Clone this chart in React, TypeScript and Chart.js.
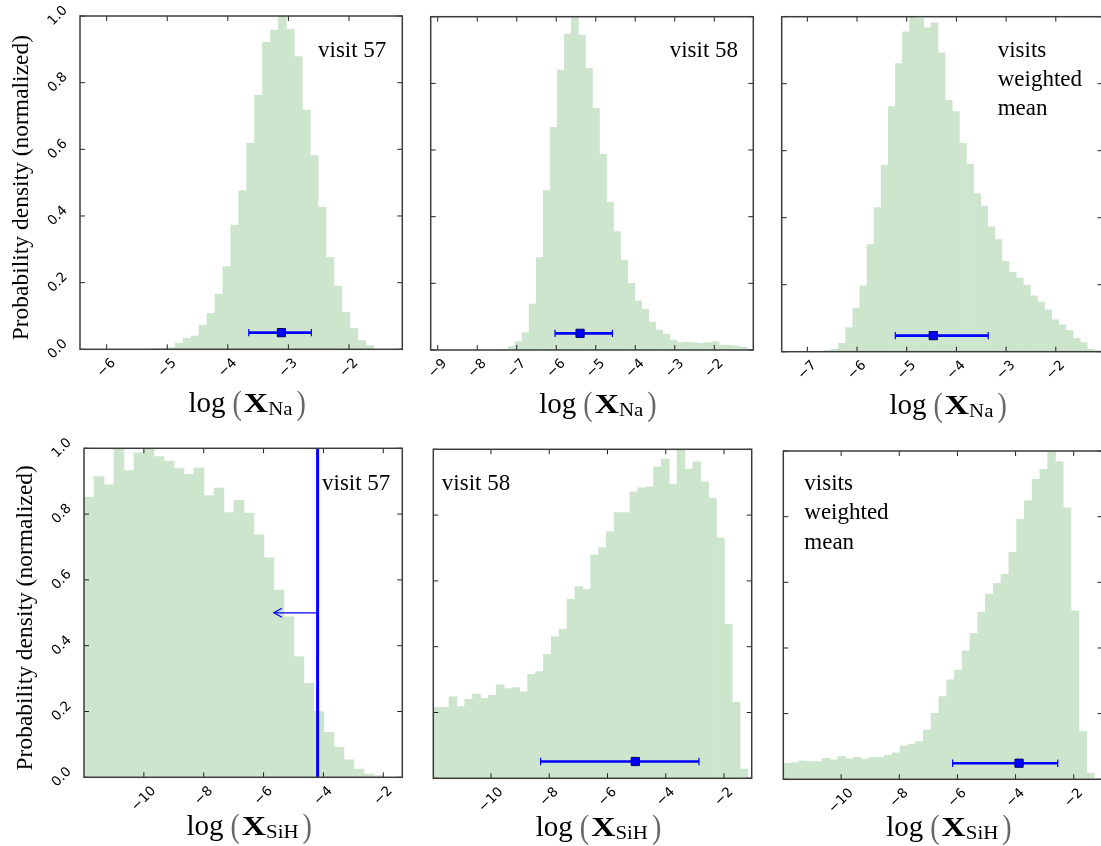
import { useEffect, useRef } from "react";
import { Chart, registerables } from "chart.js";

Chart.register(...registerables);

// ---------------- data ----------------
const Y_TICKS = [0, 0.2, 0.4, 0.6, 0.8, 1.0];
const Y_TICK_LABELS = ["0.0", "0.2", "0.4", "0.6", "0.8", "1.0"];
const Y_TITLE = "Probability density (normalized)";

const NA57_TICKS = [-6, -5, -4, -3, -2];
const NA58_TICKS = [-9, -8, -7, -6, -5, -4, -3, -2];
const NAW_TICKS = [-7, -6, -5, -4, -3, -2];
const SIH_TICKS = [-10, -8, -6, -4, -2];

// visit 57, log X_Na
const NA57_RANGE = [-6.44, -1.12];
const NA57_BIN_START = -5.261;
const NA57_BIN_WIDTH = 0.131;
const NA57_VALUES = [
  0.002, 0.003, 0.005, 0.018, 0.033, 0.04, 0.073, 0.108, 0.166, 0.248, 0.373,
  0.476, 0.618, 0.762, 0.921, 0.958, 1.0, 0.96, 0.878, 0.718, 0.581, 0.426,
  0.276, 0.19, 0.111, 0.063, 0.026, 0.011,
];
const NA57_ERR = [-3.654, -3.115, -2.621];
const NA57_ERR_Y = 0.05;

// visit 58, log X_Na
const NA58_RANGE = [-9.177, -1.013];
const NA58_BIN_START = -7.575;
const NA58_BIN_WIDTH = 0.178;
const NA58_VALUES = [
  0.001, 0.002, 0.01, 0.025, 0.052, 0.138, 0.277, 0.478, 0.668, 0.84, 0.948,
  1.0, 0.945, 0.845, 0.725, 0.587, 0.444, 0.355, 0.27, 0.2, 0.147, 0.122,
  0.084, 0.06, 0.048, 0.03, 0.022, 0.024, 0.022, 0.02, 0.022, 0.025, 0.015,
  0.014, 0.012, 0.008,
];
const NA58_ERR = [-6.03, -5.397, -4.578];
const NA58_ERR_Y = 0.05;

// weighted mean, log X_Na
const NAW_RANGE = [-7.516, -1.06];
const NAW_BIN_START = -6.658;
const NAW_BIN_WIDTH = 0.143;
const NAW_VALUES = [
  0.003, 0.008, 0.025, 0.072, 0.13, 0.197, 0.32, 0.43, 0.557, 0.732, 0.86,
  0.955, 1.0, 0.995, 0.967, 0.982, 0.892, 0.75, 0.717, 0.622, 0.56, 0.472,
  0.435, 0.373, 0.335, 0.27, 0.237, 0.22, 0.198, 0.167, 0.148, 0.125, 0.095,
  0.08, 0.063, 0.04, 0.027, 0.007, 0.003,
];
const NAW_ERR = [-5.23, -4.466, -3.36];
const NAW_ERR_Y = 0.048;

// visit 57, log X_SiH (upper limit)
const SIH57_RANGE = [-12.0, -1.365];
const SIH57_BIN_START = -12.0;
const SIH57_BIN_WIDTH = 0.334;
const SIH57_VALUES = [
  0.851, 0.914, 0.889, 1.0, 0.932, 0.986, 0.997, 0.975, 0.961, 0.938, 0.921,
  0.941, 0.856, 0.879, 0.805, 0.842, 0.803, 0.737, 0.668, 0.569, 0.488, 0.367,
  0.286, 0.2, 0.137, 0.091, 0.053, 0.025, 0.01, 0.005,
];
const SIH57_LIMIT_X = -4.195;
const SIH57_ARROW_TO = -5.655;
const SIH57_ARROW_Y = 0.5;

// visit 58, log X_SiH
const SIH58_RANGE = [-11.98, -1.05];
const SIH58_BIN_START = -11.98;
const SIH58_BIN_WIDTH = 0.27;
const SIH58_VALUES = [
  0.216, 0.216, 0.248, 0.218, 0.24, 0.256, 0.243, 0.252, 0.284, 0.273, 0.276,
  0.263, 0.316, 0.324, 0.377, 0.43, 0.453, 0.544, 0.583, 0.574, 0.679, 0.701,
  0.75, 0.808, 0.808, 0.871, 0.883, 0.886, 0.947, 0.97, 0.894, 1.0, 0.94,
  0.962, 0.901, 0.851, 0.731, 0.469, 0.231, 0.028,
];
const SIH58_ERR = [-8.295, -5.046, -2.86];
const SIH58_ERR_Y = 0.051;

// weighted mean, log X_SiH
const SIHW_RANGE = [-11.99, -1.01];
const SIHW_BIN_START = -11.99;
const SIHW_BIN_WIDTH = 0.2675;
const SIHW_VALUES = [
  0.049, 0.051, 0.056, 0.054, 0.054, 0.064, 0.059, 0.069, 0.062, 0.067, 0.061,
  0.067, 0.067, 0.074, 0.081, 0.102, 0.107, 0.115, 0.15, 0.201, 0.252, 0.303,
  0.333, 0.391, 0.445, 0.509, 0.564, 0.597, 0.624, 0.691, 0.792, 0.848, 0.914,
  0.944, 1.0, 0.968, 0.827, 0.513, 0.145, 0.018,
];
const SIHW_ERR = [-6.165, -3.88, -2.55];
const SIHW_ERR_Y = 0.049;

const LABEL_57 = ["visit 57"];
const LABEL_58 = ["visit 58"];
const LABEL_W = ["visits", "weighted", "mean"];

// ---------------- layout ----------------
const CANVAS_W = 1110;
const CANVAS_H = 846;
const SERIF = '"Liberation Serif", "Times New Roman", serif';
const SANS = '"DejaVu Sans", sans-serif';
const BAR_COLOR = "rgb(204,229,204)";
const BLUE = "#0000ff";

type Panel = {
  rect: number[];
  range: number[];
  start: number;
  width: number;
  values: number[];
  ticks: number[];
  err?: number[];
  errY?: number;
  species: string;
  labels: string[];
  labelDx: number;
  labelDy: number;
  titleDy: number;
  showY: boolean;
  limit?: { x: number; to: number; y: number };
};

const PANELS: Panel[] = [
  {
    rect: [80, 16, 402.3, 349.3], range: NA57_RANGE, start: NA57_BIN_START,
    width: NA57_BIN_WIDTH, values: NA57_VALUES, ticks: NA57_TICKS,
    err: NA57_ERR, errY: NA57_ERR_Y, species: "Na", labels: LABEL_57,
    labelDx: 238, labelDy: 41, titleDy: 63, showY: true,
  },
  {
    rect: [430.7, 16.7, 753.3, 350], range: NA58_RANGE, start: NA58_BIN_START,
    width: NA58_BIN_WIDTH, values: NA58_VALUES, ticks: NA58_TICKS,
    err: NA58_ERR, errY: NA58_ERR_Y, species: "Na", labels: LABEL_58,
    labelDx: 239, labelDy: 40, titleDy: 63, showY: false,
  },
  {
    rect: [781.7, 16.7, 1102.5, 351.7], range: NAW_RANGE, start: NAW_BIN_START,
    width: NAW_BIN_WIDTH, values: NAW_VALUES, ticks: NAW_TICKS,
    err: NAW_ERR, errY: NAW_ERR_Y, species: "Na", labels: LABEL_W,
    labelDx: 216, labelDy: 40, titleDy: 62, showY: false,
  },
  {
    rect: [84, 448.3, 402.3, 777.3], range: SIH57_RANGE, start: SIH57_BIN_START,
    width: SIH57_BIN_WIDTH, values: SIH57_VALUES, ticks: SIH_TICKS,
    species: "SiH", labels: LABEL_57, labelDx: 238, labelDy: 42, titleDy: 58,
    showY: true,
    limit: { x: SIH57_LIMIT_X, to: SIH57_ARROW_TO, y: SIH57_ARROW_Y },
  },
  {
    rect: [433.3, 449.3, 751.7, 778.3], range: SIH58_RANGE, start: SIH58_BIN_START,
    width: SIH58_BIN_WIDTH, values: SIH58_VALUES, ticks: SIH_TICKS,
    err: SIH58_ERR, errY: SIH58_ERR_Y, species: "SiH", labels: LABEL_58,
    labelDx: 8.5, labelDy: 41, titleDy: 58, showY: false,
  },
  {
    rect: [783.3, 451, 1102.5, 779.3], range: SIHW_RANGE, start: SIHW_BIN_START,
    width: SIHW_BIN_WIDTH, values: SIHW_VALUES, ticks: SIH_TICKS,
    err: SIHW_ERR, errY: SIHW_ERR_Y, species: "SiH", labels: LABEL_W,
    labelDx: 21, labelDy: 39, titleDy: 57, showY: false,
  },
];

function fmtTick(v: number) {
  return v < 0 ? "\u2212" + String(Math.abs(v)) : String(v);
}

function drawXTitle(ctx: CanvasRenderingContext2D, cx: number, base: number, species: string) {
  const parts = [
    { t: "log", font: `29px ${SERIF}`, sx: 1, dy: 0, color: "#000", gap: 0 },
    { t: "(", font: `33px ${SERIF}`, sx: 0.85, dy: 2, color: "#666", gap: 7 },
    { t: "X", font: `bold 28px ${SERIF}`, sx: 1.2, dy: 0, color: "#000", gap: 2 },
    { t: species, font: `19px ${SERIF}`, sx: 1.1, dy: 3, color: "#000", gap: 0 },
    { t: ")", font: `33px ${SERIF}`, sx: 0.85, dy: 2, color: "#666", gap: 4 },
  ];
  let total = 0;
  const widths: number[] = [];
  for (const p of parts) {
    ctx.font = p.font;
    const w = ctx.measureText(p.t).width * p.sx;
    widths.push(w);
    total += w + p.gap;
  }
  let x = cx - total / 2;
  parts.forEach((p, i) => {
    x += p.gap;
    ctx.save();
    ctx.font = p.font;
    ctx.fillStyle = p.color;
    ctx.textAlign = "left";
    ctx.textBaseline = "alphabetic";
    ctx.translate(x, base + p.dy);
    ctx.scale(p.sx, 1);
    ctx.fillText(p.t, 0, 0);
    ctx.restore();
    x += widths[i];
  });
}

function makeDecor(p: Panel) {
  return {
    id: "decor",
    afterDraw(chart: any) {
      const { ctx, chartArea: a } = chart;
      const xs = chart.scales.x;
      const ys = chart.scales.y;
      ctx.save();

      // arrow head for the upper limit
      if (p.limit) {
        const tx = xs.getPixelForValue(p.limit.to);
        const ty = ys.getPixelForValue(p.limit.y);
        ctx.strokeStyle = BLUE;
        ctx.lineWidth = 1.3;
        ctx.beginPath();
        ctx.moveTo(tx + 8, ty - 4.5);
        ctx.lineTo(tx, ty);
        ctx.lineTo(tx + 8, ty + 4.5);
        ctx.stroke();
      }

      // inward ticks on all four sides
      ctx.strokeStyle = "#222";
      ctx.lineWidth = 1;
      ctx.beginPath();
      for (const t of p.ticks) {
        const px = xs.getPixelForValue(t);
        ctx.moveTo(px, a.bottom);
        ctx.lineTo(px, a.bottom - 5);
        ctx.moveTo(px, a.top);
        ctx.lineTo(px, a.top + 5);
      }
      for (const t of Y_TICKS) {
        const py = ys.getPixelForValue(t);
        ctx.moveTo(a.left, py);
        ctx.lineTo(a.left + 5, py);
        ctx.moveTo(a.right, py);
        ctx.lineTo(a.right - 5, py);
      }
      ctx.stroke();

      // frame
      ctx.strokeStyle = "#3c3c3c";
      ctx.lineWidth = 1.5;
      ctx.strokeRect(a.left, a.top, a.right - a.left, a.bottom - a.top);

      // x tick labels, rotated 45 degrees and centred
      ctx.font = `13.5px ${SANS}`;
      ctx.fillStyle = "#000";
      ctx.textAlign = "center";
      ctx.textBaseline = "middle";
      for (const t of p.ticks) {
        const s = fmtTick(t);
        const w = ctx.measureText(s).width;
        const d = (w + 10) * Math.SQRT1_2;
        ctx.save();
        ctx.translate(xs.getPixelForValue(t), a.bottom + 8 + d / 2);
        ctx.rotate(-Math.PI / 4);
        ctx.fillText(s, 0, 0);
        ctx.restore();
      }

      // y tick labels and title
      if (p.showY) {
        Y_TICKS.forEach((t, i) => {
          const s = Y_TICK_LABELS[i];
          const w = ctx.measureText(s).width;
          const d = (w + 10) * Math.SQRT1_2;
          ctx.save();
          ctx.translate(a.left - 11 - d / 2, ys.getPixelForValue(t));
          ctx.rotate(-Math.PI / 4);
          ctx.fillText(s, 0, 0);
          ctx.restore();
        });
        ctx.save();
        ctx.font = `23.5px ${SERIF}`;
        ctx.textBaseline = "alphabetic";
        ctx.textAlign = "center";
        ctx.translate(a.left - 52, (a.top + a.bottom) / 2 + 5);
        ctx.rotate(-Math.PI / 2);
        ctx.fillText(Y_TITLE, 0, 0);
        ctx.restore();
      }

      // x axis title
      drawXTitle(ctx, (a.left + a.right) / 2 + 6, a.bottom + p.titleDy, p.species);

      // annotation text
      ctx.font = `23px ${SERIF}`;
      ctx.textAlign = "left";
      ctx.textBaseline = "alphabetic";
      ctx.fillStyle = "#000";
      p.labels.forEach((s, i) => {
        ctx.fillText(s, a.left + p.labelDx, a.top + p.labelDy + i * 29.3);
      });

      ctx.restore();
    },
  };
}

function buildChart(canvas: HTMLCanvasElement, p: Panel) {
  const [L, T, R, B] = p.rect;
  const bars = p.values.map((v, i) => ({ x: p.start + p.width * (i + 0.5), y: v }));
  const datasets: any[] = [
    {
      type: "bar",
      data: bars,
      backgroundColor: BAR_COLOR,
      borderWidth: 0,
      barPercentage: 1,
      categoryPercentage: 1,
      order: 5,
    },
  ];
  if (p.err && p.errY !== undefined) {
    datasets.push({
      type: "line",
      data: [
        { x: p.err[0], y: p.errY },
        { x: p.err[2], y: p.errY },
      ],
      borderColor: BLUE,
      borderWidth: 2.6,
      pointStyle: "line",
      rotation: 90,
      pointRadius: 3.7,
      pointBorderColor: BLUE,
      pointBorderWidth: 1.2,
      fill: false,
      order: 2,
    });
    datasets.push({
      type: "line",
      data: [{ x: p.err[1], y: p.errY }],
      showLine: false,
      pointStyle: "rect",
      pointRadius: 5.8,
      pointBackgroundColor: BLUE,
      pointBorderColor: "#00006a",
      pointBorderWidth: 1,
      order: 1,
    });
  }
  if (p.limit) {
    datasets.push({
      type: "line",
      data: [
        { x: p.limit.x, y: 0 },
        { x: p.limit.x, y: 1 },
      ],
      borderColor: BLUE,
      borderWidth: 3,
      pointRadius: 0,
      fill: false,
      order: 2,
    });
    datasets.push({
      type: "line",
      data: [
        { x: p.limit.x, y: p.limit.y },
        { x: p.limit.to, y: p.limit.y },
      ],
      borderColor: BLUE,
      borderWidth: 1.3,
      pointRadius: 0,
      fill: false,
      order: 2,
    });
  }

  return new Chart(canvas, {
    type: "bar",
    data: { datasets },
    options: {
      animation: false,
      responsive: false,
      devicePixelRatio: 1,
      events: [],
      layout: {
        padding: { left: L, top: T, right: CANVAS_W - R, bottom: CANVAS_H - B },
      },
      plugins: {
        legend: { display: false },
        tooltip: { enabled: false },
        title: { display: false },
      },
      scales: {
        x: {
          type: "linear",
          min: p.range[0],
          max: p.range[1],
          offset: false,
          display: false,
          ticks: { includeBounds: false, stepSize: 1 },
          grid: { display: false, offset: false },
        },
        y: {
          type: "linear",
          min: 0,
          max: 1,
          display: false,
          grid: { display: false },
        },
      },
    },
    plugins: [makeDecor(p)],
  } as any);
}

function PanelChart({ p }: { p: Panel }) {
  const ref = useRef<HTMLCanvasElement | null>(null);
  useEffect(() => {
    if (!ref.current) return;
    const chart = buildChart(ref.current, p);
    return () => chart.destroy();
  }, [p]);
  return (
    <canvas
      ref={ref}
      width={CANVAS_W}
      height={CANVAS_H}
      style={{ position: "absolute", left: 0, top: 0, width: CANVAS_W, height: CANVAS_H }}
    />
  );
}

export default function App() {
  return (
    <div
      style={{
        position: "fixed",
        left: 0,
        top: 0,
        width: 1101,
        height: 846,
        overflow: "hidden",
        background: "#fff",
      }}
    >
      {PANELS.map((p, i) => (
        <PanelChart key={i} p={p} />
      ))}
    </div>
  );
}
